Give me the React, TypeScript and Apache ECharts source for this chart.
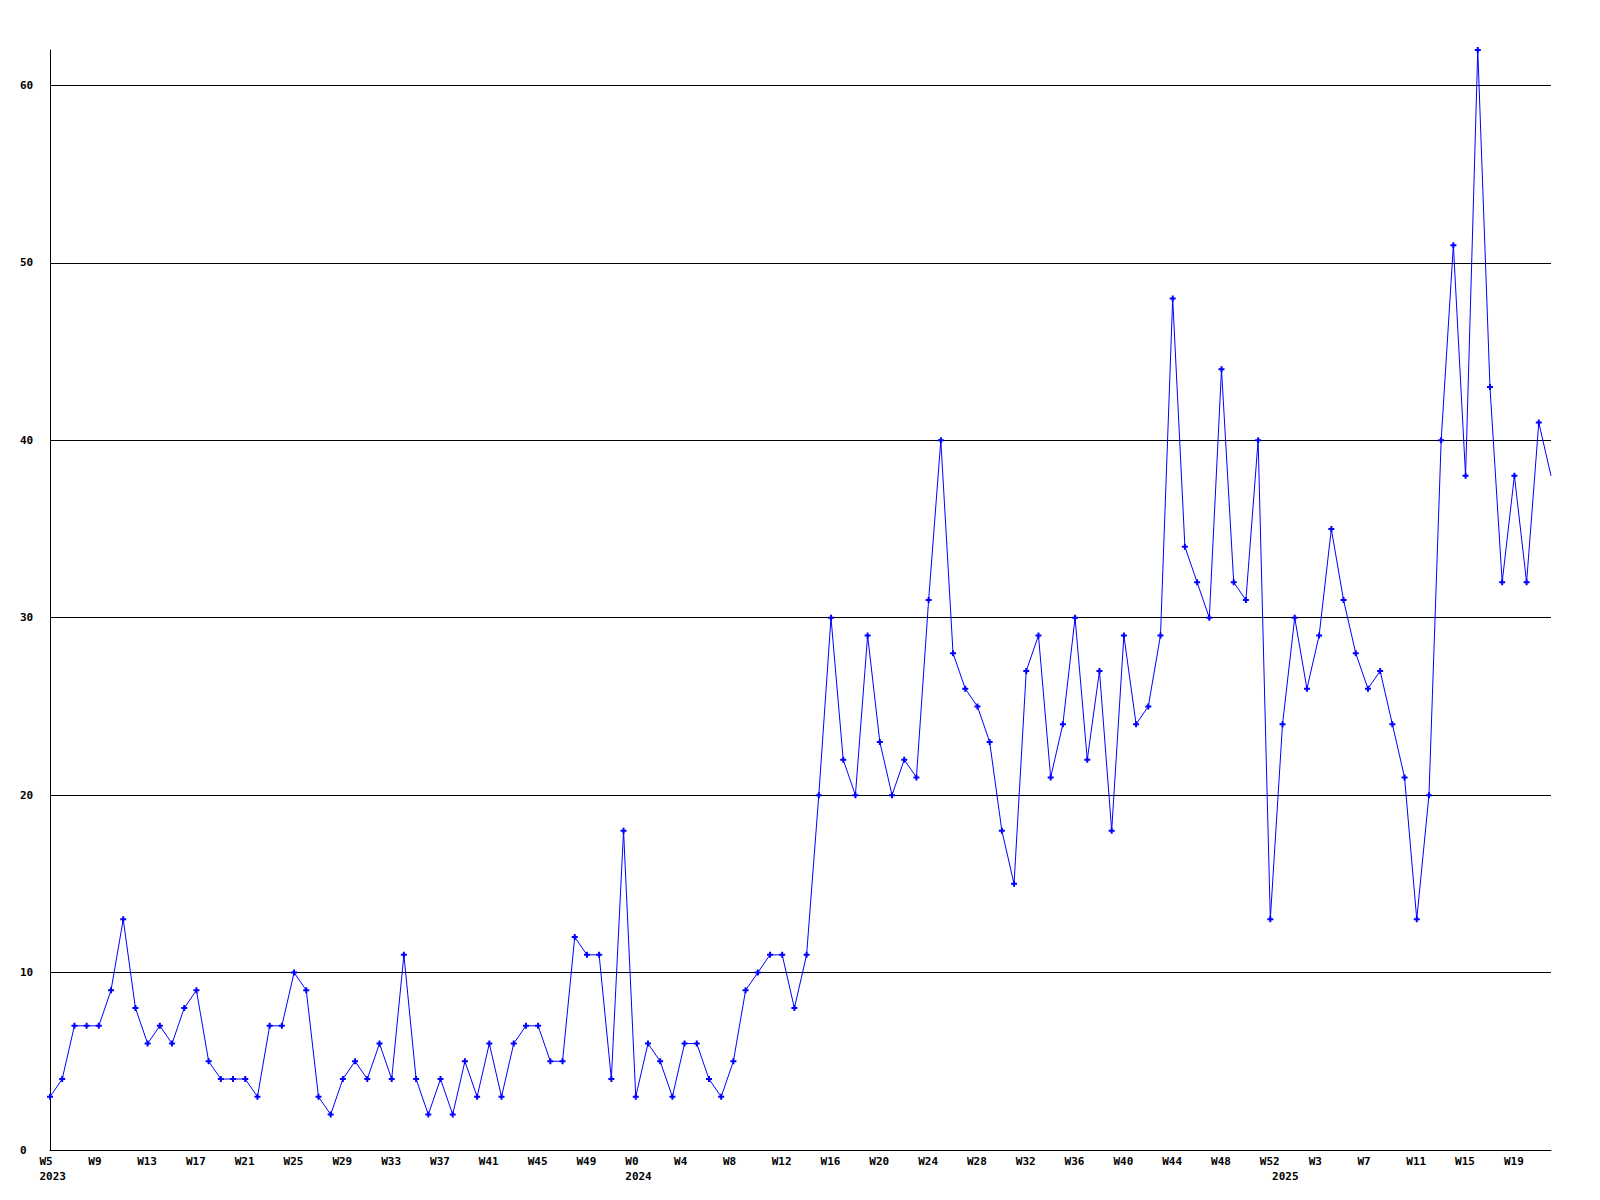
import React, { useEffect, useRef } from "react";
import * as echarts from "echarts";

// Week ranges per year (as printed on the axis, %U style numbering)
const yearSegments: { year: string; from: number; to: number }[] = [
  { year: "2023", from: 5, to: 52 },
  { year: "2024", from: 0, to: 52 },
  { year: "2025", from: 0, to: 22 },
];

// Weekly counts, 2023 W5 .. 2023 W52
const counts2023 = [
  3, 4, 7, 7, 7, 9, 13, 8, 6, 7, 6, 8, 9, 5, 4, 4, 4, 3, 7, 7, 10, 9, 3, 2, 4,
  5, 4, 6, 4, 11, 4, 2, 4, 2, 5, 3, 6, 3, 6, 7, 7, 5, 5, 12, 11, 11, 4, 18,
];
// 2024 W0 .. 2024 W52
const counts2024 = [
  3, 6, 5, 3, 6, 6, 4, 3, 5, 9, 10, 11, 11, 8, 11, 20, 30, 22, 20, 29, 23, 20,
  22, 21, 31, 40, 28, 26, 25, 23, 18, 15, 27, 29, 21, 24, 30, 22, 27, 18, 29,
  24, 25, 29, 48, 34, 32, 30, 44, 32, 31, 40, 13,
];
// 2025 W0 .. 2025 W22
const counts2025 = [
  24, 30, 26, 29, 35, 31, 28, 26, 27, 24, 21, 13, 20, 40, 51, 38, 62, 43, 32, 38,
  32, 41, 38,
];

const yTicks = [0, 10, 20, 30, 40, 50, 60];
const yMax = 62;

// Build categories
const categories: string[] = [];
const weekLabels: string[] = [];
const yearLabelAt: Record<number, string> = {};
yearSegments.forEach((seg) => {
  yearLabelAt[categories.length] = seg.year;
  for (let w = seg.from; w <= seg.to; w++) {
    categories.push(seg.year + "-W" + w);
    weekLabels.push("W" + w);
  }
});
const values = [...counts2023, ...counts2024, ...counts2025];

const FONT = "DejaVu Sans Mono";
const PLUS = "path://M2,0H4V2H6V4H4V6H2V4H0V2H2Z";

export default function App() {
  const ref = useRef<HTMLDivElement>(null);
  useEffect(() => {
    if (!ref.current) return;
    const chart = echarts.init(ref.current, null, { renderer: "svg" });
    const showLabel = (idx: number) => idx % 4 === 0 || yearLabelAt[idx] !== undefined;
    const seriesData = values.map((v, i) =>
      i === values.length - 1 ? { value: v, symbol: "none" } : v
    );
    chart.setOption({
      animation: false,
      backgroundColor: "#ffffff",
      grid: [
        { left: 50, right: 49, top: 50, bottom: 50, containLabel: false },
        { left: 39.5, right: 59.5, top: 50, bottom: 50, containLabel: false },
      ],
      xAxis: [
        {
          type: "category",
          gridIndex: 0,
          data: categories,
          boundaryGap: false,
          axisLine: { show: true, lineStyle: { color: "#000000", width: 1 } },
          axisTick: { show: false },
          axisLabel: { show: false },
          splitLine: { show: false },
        },
        {
          type: "category",
          gridIndex: 1,
          data: categories,
          boundaryGap: false,
          axisLine: { show: false },
          axisTick: { show: false },
          splitLine: { show: false },
          axisLabel: {
            show: true,
            interval: (idx: number) => showLabel(idx),
            formatter: (_v: string, idx: number) => {
              const w = idx % 4 === 0 ? weekLabels[idx] : "";
              const y = yearLabelAt[idx];
              return y !== undefined ? w + "\n" + y : w;
            },
            align: "left",
            verticalAlign: "top",
            margin: 4,
            lineHeight: 15,
            fontFamily: FONT,
            fontSize: 11,
            fontWeight: "bold",
            color: "#000000",
            hideOverlap: false,
          },
        },
      ],
      yAxis: [
        {
          type: "value",
          gridIndex: 0,
          min: 0,
          max: yMax,
          interval: 10,
          axisLine: { show: true, lineStyle: { color: "#000000", width: 1 } },
          axisTick: { show: false },
          axisLabel: {
            show: true,
            align: "left",
            margin: 30,
            showMaxLabel: false,
            formatter: (v: number) => (yTicks.includes(v) ? String(v) : ""),
            fontFamily: FONT,
            fontSize: 11,
            fontWeight: "bold",
            color: "#000000",
          },
          splitLine: {
            show: true,
            showMaxLine: false,
            lineStyle: { color: "#000000", width: 1 },
          },
        },
        {
          type: "value",
          gridIndex: 1,
          min: 0,
          max: yMax,
          show: false,
        },
      ],
      series: [
        {
          type: "line",
          xAxisIndex: 0,
          yAxisIndex: 0,
          data: seriesData,
          showAllSymbol: true,
          symbol: PLUS,
          symbolSize: 6,
          lineStyle: { color: "#0000ff", width: 1 },
          itemStyle: { color: "#0000ff" },
          clip: true,
        },
      ],
    });
    return () => chart.dispose();
  }, []);
  return (
    <div
      ref={ref}
      style={{ position: "fixed", left: 0, top: 0, width: 1600, height: 1200, background: "#fff" }}
    />
  );
}
